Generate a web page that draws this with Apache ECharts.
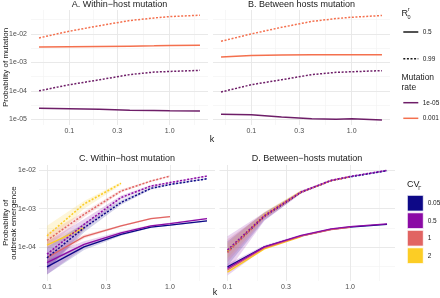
<!DOCTYPE html>
<html>
<head>
<meta charset="utf-8">
<script src="https://cdn.jsdelivr.net/npm/echarts@6/dist/echarts.min.js"></script>
<style>
  html, body { margin: 0; background: #fff; }
  #chart { width: 440px; height: 298px; }
</style>
</head>
<body>
<div id="chart"></div>
<script>
// k values
const kTop = [0.05, 0.1, 0.2, 0.4, 0.7, 1, 2]
const kBottom = [0.1, 0.2, 0.4, 0.7, 1, 2]

// tick labels
const xTicks = [0.1, 0.3, 1.0]
const yTicksTop = [1e-5, 1e-4, 1e-3, 1e-2]
const yTicksBottom = [1e-4, 1e-3, 1e-2]

// A. within-host mutation (probability of mutation)
const aMu1e5R05 = [2.45e-5, 2.34e-5, 2.24e-5, 2.09e-5, 2.04e-5, 2.0e-5, 1.95e-5]
const aMu1e5R099 = [1.0e-4, 1.64e-4, 2.45e-4, 3.72e-4, 4.57e-4, 4.79e-4, 5.25e-4]
const aMu1e3R05 = [3.47e-3, 3.55e-3, 3.63e-3, 3.72e-3, 3.80e-3, 3.89e-3, 3.98e-3]
const aMu1e3R099 = [7.24e-3, 1.24e-2, 1.95e-2, 2.95e-2, 3.63e-2, 4.07e-2, 4.52e-2]

// B. between hosts mutation
const bMu1e5R05 = [1.51e-5, 1.45e-5, 1.20e-5, 1.05e-5, 1.0e-5, 1.05e-5, 9.5e-6]
const bMu1e5R099 = [9.1e-5, 1.64e-4, 2.45e-4, 3.72e-4, 4.47e-4, 4.68e-4, 5.13e-4]
const bMu1e3R05 = [1.55e-3, 1.74e-3, 1.82e-3, 1.86e-3, 1.86e-3, 1.86e-3, 1.86e-3]
const bMu1e3R099 = [5.5e-3, 1.0e-2, 1.70e-2, 2.75e-2, 3.47e-2, 3.85e-2, 4.42e-2]

// C. within-host mutation (probability of outbreak emergence), per CV
const cCv005R05 = [3.0e-5, 1.0e-4, 2.14e-4, 3.31e-4, 3.72e-4, 4.79e-4]
const cCv05R05 = [3.9e-5, 1.17e-4, 2.34e-4, 3.55e-4, 4.07e-4, 5.5e-4]
const cCv1R05 = [5.2e-5, 1.86e-4, 3.55e-4, 5.5e-4, 6.17e-4]
const cCv2R05 = [1.12e-4, 3.16e-4]
const cCv005R099 = [5.2e-5, 3.16e-4, 1.45e-3, 3.39e-3, 4.27e-3, 6.03e-3]
const cCv05R099 = [6.5e-5, 3.9e-4, 1.95e-3, 3.89e-3, 4.79e-3, 7.08e-3]
const cCv1R099 = [1.48e-4, 7.1e-4, 2.88e-3, 5.25e-3, 7.08e-3]
const cCv2R099 = [1.95e-4, 1.32e-3, 4.57e-3]

// C ribbons (lower / upper)
const cCv005R05Lo = [1.9e-5, 8.3e-5, 1.95e-4, 3.16e-4, 3.55e-4, 4.57e-4]
const cCv005R05Hi = [4.5e-5, 1.17e-4, 2.34e-4, 3.47e-4, 3.89e-4, 5.0e-4]
const cCv05R05Lo = [1.9e-5, 9.5e-5, 2.14e-4, 3.39e-4, 3.89e-4, 5.25e-4]
const cCv05R05Hi = [6.3e-5, 1.41e-4, 2.57e-4, 3.72e-4, 4.27e-4, 5.75e-4]
const cCv1R05Lo = [4.0e-5, 1.66e-4, 3.39e-4, 5.25e-4, 5.9e-4]
const cCv1R05Hi = [7.1e-5, 2.09e-4, 3.72e-4, 5.75e-4, 6.46e-4]
const cCv2R05Lo = [8.9e-5, 2.63e-4]
const cCv2R05Hi = [1.41e-4, 3.72e-4]
const cCv005R099Lo = [2.5e-5, 2.4e-4, 1.26e-3, 3.16e-3, 4.07e-3, 5.75e-3]
const cCv005R099Hi = [1.0e-4, 4.17e-4, 1.66e-3, 3.63e-3, 4.47e-3, 6.31e-3]
const cCv05R099Lo = [2.5e-5, 2.82e-4, 1.74e-3, 3.63e-3, 4.57e-3, 6.76e-3]
const cCv05R099Hi = [1.41e-4, 5.25e-4, 2.19e-3, 4.17e-3, 5.0e-3, 7.41e-3]
const cCv1R099Lo = [1.0e-4, 6.0e-4, 2.63e-3, 5.0e-3, 6.76e-3]
const cCv1R099Hi = [2.24e-4, 8.3e-4, 3.16e-3, 5.5e-3, 7.41e-3]
const cCv2R099Lo = [1.12e-4, 1.0e-3, 4.17e-3]
const cCv2R099Hi = [3.55e-4, 1.58e-3, 5.0e-3]

// D. between-hosts mutation, per CV
const dCv005R05 = [3.0e-5, 1.0e-4, 1.95e-4, 2.88e-4, 3.31e-4, 3.89e-4]
const dCv05R05 = [2.75e-5, 1.0e-4, 2.0e-4, 2.95e-4, 3.39e-4, 3.98e-4]
const dCv1R05 = [2.5e-5, 9.5e-5, 1.91e-4, 2.82e-4, 3.24e-4]
const dCv2R05 = [2.2e-5, 8.9e-5, 1.86e-4]
const dCv005R099 = [7.6e-5, 6.3e-4, 2.69e-3, 5.37e-3, 6.76e-3, 9.8e-3]
const dCv05R099 = [8.3e-5, 6.6e-4, 2.75e-3, 5.5e-3, 6.92e-3, 1.0e-2]
const dCv1R099 = [7.1e-5, 6.3e-4, 2.69e-3, 5.37e-3, 6.76e-3]
const dCv2R099 = [7.9e-5, 6.9e-4, 2.82e-3]

// D ribbons
const dCv05R05Lo = [1.8e-5, 9.1e-5, 1.9e-4, 2.85e-4, 3.3e-4, 3.9e-4]
const dCv05R05Hi = [3.6e-5, 1.1e-4, 2.1e-4, 3.05e-4, 3.5e-4, 4.07e-4]
const dCv005R099Lo = [3.2e-5, 5.0e-4, 2.51e-3, 5.25e-3, 6.6e-3, 9.3e-3]
const dCv005R099Hi = [1.41e-4, 7.9e-4, 2.88e-3, 5.5e-3, 6.9e-3, 1.02e-2]
const dCv05R099Lo = [2.24e-5, 4.8e-4, 2.51e-3, 5.25e-3, 6.6e-3, 9.5e-3]
const dCv05R099Hi = [1.9e-4, 7.9e-4, 3.0e-3, 5.75e-3, 7.24e-3, 1.05e-2]
const dCv1R099Lo = [4.0e-5, 5.25e-4, 2.51e-3, 5.13e-3, 6.46e-3]
const dCv1R099Hi = [1.58e-4, 7.6e-4, 2.88e-3, 5.6e-3, 7.1e-3]
const dCv2R099Lo = [5.0e-5, 5.6e-4, 2.6e-3]
const dCv2R099Hi = [1.26e-4, 8.3e-4, 3.05e-3]

const muColors = { low: '#6e1e68', high: '#f4704e' }
const cvColors = ['#0d0887', '#8b0aa5', '#e16462', '#fccd25']
const cvLabels = ['0.05', '0.5', '1', '2']

const FONT = "'Liberation Sans', Arial, sans-serif"
const lg = Math.log10

const grids = [
  { left: 31, top: 10, width: 177, height: 115 },
  { left: 213, top: 10, width: 177, height: 115 },
  { left: 39, top: 165, width: 176, height: 116 },
  { left: 219.5, top: 165, width: 175.5, height: 116 }
]
const xRange = [[-1.381, 0.381], [-1.381, 0.381], [-1.065, 0.366], [-1.065, 0.366]]
const yRange = [[-5.2, -1.16], [-5.2, -1.16], [-4.89, -1.86], [-4.89, -1.86]]

function xAxisFor (i) {
  return {
    type: 'value', gridIndex: i, min: xRange[i][0], max: xRange[i][1],
    axisLine: { show: false }, axisTick: { show: false }, splitLine: { show: false },
    axisLabel: {
      customValues: xTicks.map(lg),
      formatter: v => Math.pow(10, v).toFixed(1),
      fontSize: 7, color: '#4d4d4d', fontFamily: FONT, margin: 3
    }
  }
}
function yAxisFor (i) {
  const ticks = i < 2 ? yTicksTop : yTicksBottom
  return {
    type: 'value', gridIndex: i, min: yRange[i][0], max: yRange[i][1],
    axisLine: { show: false }, axisTick: { show: false }, splitLine: { show: false },
    axisLabel: {
      show: i % 2 === 0,
      customValues: ticks.map(lg),
      formatter: v => '1e-0' + Math.round(-v),
      fontSize: 7, color: '#4d4d4d', fontFamily: FONT, margin: i < 2 ? 4 : 3
    }
  }
}

// grid lines as mark lines, major at ticks and minor halfway (log space)
function gridSeries (i) {
  const ticks = (i < 2 ? yTicksTop : yTicksBottom).map(lg)
  const xMaj = xTicks.map(lg)
  const xMin = [-1.261, -0.761, -0.261, 0.239].filter(v => v > xRange[i][0] && v < xRange[i][1])
  const yMin = [-4.5, -3.5, -2.5, -1.5].filter(v => v > yRange[i][0] && v < yRange[i][1])
  const major = { color: '#e6e6e6', width: 0.9, type: 'solid' }
  const minor = { color: '#f2f2f2', width: 0.6, type: 'solid' }
  const data = []
  xMin.forEach(v => data.push({ xAxis: v, lineStyle: minor }))
  yMin.forEach(v => data.push({ yAxis: v, lineStyle: minor }))
  xMaj.forEach(v => data.push({ xAxis: v, lineStyle: major }))
  ticks.forEach(v => data.push({ yAxis: v, lineStyle: major }))
  return {
    type: 'line', xAxisIndex: i, yAxisIndex: i, data: [], z: 0, silent: true,
    markLine: { silent: true, symbol: ['none', 'none'], label: { show: false }, animation: false, z: 0, data: data }
  }
}

function line (i, ks, vals, color, dotted, width) {
  return {
    type: 'line', xAxisIndex: i, yAxisIndex: i, symbol: 'none', silent: true, z: 3,
    data: vals.map((v, j) => [lg(ks[j]), lg(v)]),
    lineStyle: { color: color, width: width || 1.3, type: dotted ? [2, 1.6] : 'solid', cap: 'butt' }
  }
}

// ribbon drawn as one polygon through the axis scales
function band (i, ks, lo, hi, color) {
  const rows = lo.map((v, j) => [lg(ks[j]), lg(v), lg(hi[j])])
  return {
    type: 'custom', xAxisIndex: i, yAxisIndex: i, silent: true, z: 2,
    data: rows,
    encode: { x: 0, y: [1, 2] },
    renderItem: (params, api) => {
      if (params.dataIndex !== 0) return null
      const pts = rows.map(r => api.coord([r[0], r[1]]))
      for (let j = rows.length - 1; j >= 0; j--) pts.push(api.coord([rows[j][0], rows[j][2]]))
      return { type: 'polygon', shape: { points: pts }, style: { fill: color, opacity: 0.18 } }
    }
  }
}

const series = [gridSeries(0), gridSeries(1), gridSeries(2), gridSeries(3)]

// top panels
series.push(
  line(0, kTop, aMu1e5R05, muColors.low, false, 1.5),
  line(0, kTop, aMu1e5R099, muColors.low, true, 1.5),
  line(0, kTop, aMu1e3R05, muColors.high, false, 1.5),
  line(0, kTop, aMu1e3R099, muColors.high, true, 1.5),
  line(1, kTop, bMu1e5R05, muColors.low, false, 1.5),
  line(1, kTop, bMu1e5R099, muColors.low, true, 1.5),
  line(1, kTop, bMu1e3R05, muColors.high, false, 1.5),
  line(1, kTop, bMu1e3R099, muColors.high, true, 1.5)
)

// panel C
series.push(
  band(2, kBottom, cCv005R05Lo, cCv005R05Hi, cvColors[0]),
  band(2, kBottom, cCv05R05Lo, cCv05R05Hi, cvColors[1]),
  band(2, kBottom, cCv1R05Lo, cCv1R05Hi, cvColors[2]),
  band(2, kBottom, cCv2R05Lo, cCv2R05Hi, cvColors[3]),
  band(2, kBottom, cCv005R099Lo, cCv005R099Hi, cvColors[0]),
  band(2, kBottom, cCv05R099Lo, cCv05R099Hi, cvColors[1]),
  band(2, kBottom, cCv1R099Lo, cCv1R099Hi, cvColors[2]),
  band(2, kBottom, cCv2R099Lo, cCv2R099Hi, cvColors[3]),
  line(2, kBottom, cCv005R05, cvColors[0], false),
  line(2, kBottom, cCv05R05, cvColors[1], false),
  line(2, kBottom, cCv1R05, cvColors[2], false),
  line(2, kBottom, cCv2R05, cvColors[3], false),
  line(2, kBottom, cCv005R099, cvColors[0], true, 1.5),
  line(2, kBottom, cCv05R099, cvColors[1], true, 1.5),
  line(2, kBottom, cCv1R099, cvColors[2], true, 1.5),
  line(2, kBottom, cCv2R099, cvColors[3], true, 1.5)
)

// panel D
series.push(
  band(3, kBottom, dCv05R05Lo, dCv05R05Hi, cvColors[1]),
  band(3, kBottom, dCv005R099Lo, dCv005R099Hi, cvColors[0]),
  band(3, kBottom, dCv2R099Lo, dCv2R099Hi, cvColors[3]),
  band(3, kBottom, dCv1R099Lo, dCv1R099Hi, cvColors[2]),
  band(3, kBottom, dCv05R099Lo, dCv05R099Hi, cvColors[1]),
  line(3, kBottom, dCv005R05, cvColors[0], false),
  line(3, kBottom, dCv2R05, cvColors[3], false),
  line(3, kBottom, dCv1R05, cvColors[2], false),
  line(3, kBottom, dCv05R05, cvColors[1], false),
  line(3, kBottom, dCv005R099, cvColors[0], true, 1.5),
  line(3, kBottom, dCv2R099, cvColors[3], true, 1.5),
  line(3, kBottom, dCv1R099, cvColors[2], true, 1.5),
  line(3, kBottom, dCv05R099, cvColors[1], true, 1.5)
)

function txt (text, x, y, size, opts) {
  opts = opts || {}
  return {
    type: 'text', x: x, y: y, rotation: opts.rotation || 0, silent: true,
    style: {
      text: text, fill: opts.color || '#1a1a1a', font: size + 'px ' + FONT,
      textAlign: opts.align || 'left', textVerticalAlign: 'middle'
    }
  }
}
function keyLine (x1, x2, y, color, dotted) {
  return {
    type: 'line', silent: true,
    shape: { x1: x1, y1: y, x2: x2, y2: y },
    style: { stroke: color, lineWidth: 1.5, lineDash: dotted ? [2, 1.6] : null }
  }
}

const graphics = [
  txt('A. Within\u2212host mutation', 119.5, 5, 9, { align: 'center' }),
  txt('B. Between hosts mutation', 301.5, 5, 9, { align: 'center' }),
  txt('C. Within\u2212host mutation', 127, 158.5, 9, { align: 'center' }),
  txt('D. Between\u2212hosts mutation', 307, 158.5, 9, { align: 'center' }),
  txt('Probability of mutation', 5.5, 67.5, 8, { align: 'center', rotation: Math.PI / 2 }),
  txt('Probability of', 5.5, 223, 8, { align: 'center', rotation: Math.PI / 2 }),
  txt('outbreak emergence', 14, 223, 8, { align: 'center', rotation: Math.PI / 2 }),
  txt('k', 212, 140, 9, { align: 'center' }),
  txt('k', 215, 293, 9, { align: 'center' }),
  // R0 legend
  txt('R', 401.5, 13.5, 9),
  txt('r', 407.8, 9.5, 5.5),
  txt('0', 407.5, 17, 5.5),
  keyLine(403.3, 418.3, 32, '#1a1a1a', false),
  txt('0.5', 422.7, 32.5, 6.5),
  keyLine(403.3, 418.3, 58.7, '#1a1a1a', true),
  txt('0.99', 422.7, 59, 6.5),
  txt('Mutation', 401.5, 78, 8.5),
  txt('rate', 401.5, 87.5, 8.5),
  keyLine(403.3, 418.3, 102.7, muColors.low, false),
  txt('1e-05', 422.7, 103, 6.5),
  keyLine(403.3, 418.3, 118.3, muColors.high, false),
  txt('0.001', 422.7, 118.6, 6.5),
  // CV legend
  txt('CV', 407, 185, 9),
  txt('\u0393', 418.3, 188, 5.5)
]
cvColors.forEach((c, i) => {
  const y0 = 195.3 + i * 17.5
  graphics.push({
    type: 'rect', silent: true,
    shape: { x: 407.3, y: y0, width: 16, height: 15.8 },
    style: { fill: c, stroke: '#ffffff', lineWidth: 0.8 }
  })
  graphics.push(txt(cvLabels[i], 427.7, y0 + 8, 6.5))
})

const chart = echarts.init(document.getElementById('chart'), null, { renderer: 'canvas' })
chart.setOption({
  animation: false,
  backgroundColor: '#ffffff',
  grid: grids,
  xAxis: [0, 1, 2, 3].map(xAxisFor),
  yAxis: [0, 1, 2, 3].map(yAxisFor),
  series: series,
  graphic: graphics
})
</script>
</body>
</html>
